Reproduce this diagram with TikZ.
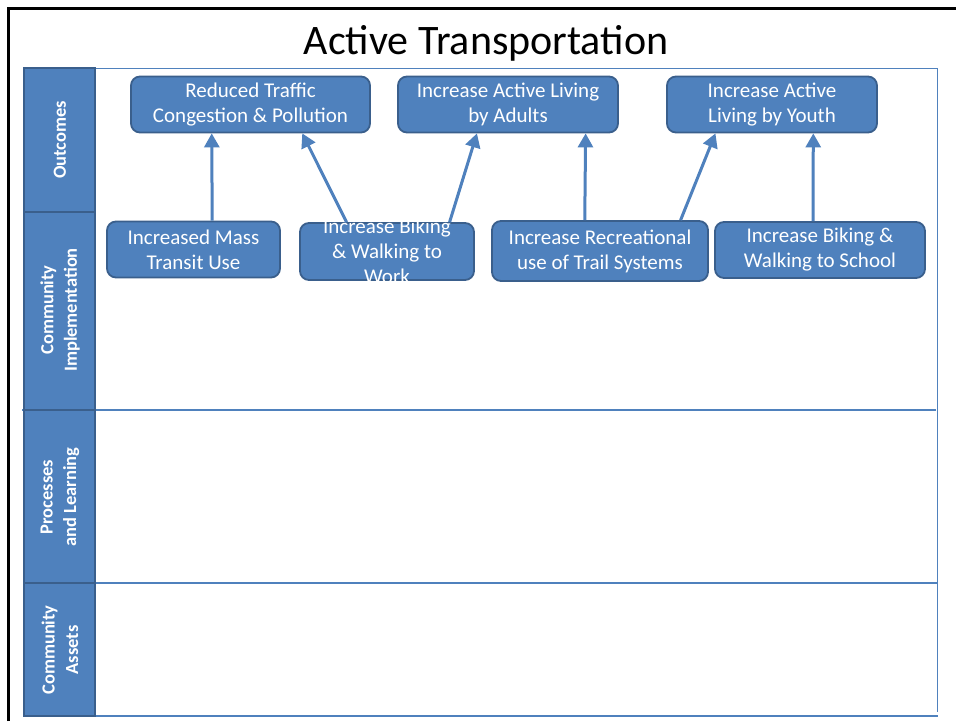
\documentclass[tikz,border=0pt]{standalone}
\usepackage{fontspec}
\setmainfont{Carlito}
\usetikzlibrary{arrows.meta,calc}
\definecolor{cellblue}{HTML}{4F81BD}
\definecolor{edgeblue}{HTML}{3A5F8C}
\begin{document}
\begin{tikzpicture}[x=1pt,y=-1pt,
  goalbox/.style={draw=edgeblue,line width=1.8pt,fill=cellblue,rounded corners=9pt,
    text=white,align=center,inner sep=0pt,
    font=\fontsize{21}{25}\selectfont},
  rowlabel/.style={draw=edgeblue,line width=1.8pt,fill=cellblue},
  rowtext/.style={text=white,align=center,rotate=90,inner sep=0pt,
    font=\bfseries\fontsize{18.5}{23.5}\selectfont},
  gridline/.style={draw=cellblue,line width=1pt},
  arr/.style={draw=cellblue,line width=3pt,-{Triangle[width=15pt,length=14pt]}}]
\useasboundingbox (0,0) rectangle (956,721);
\fill[white] (0,0) rectangle (956,721);

% outer frame
\draw[line width=3pt,black] (8,721) -- (8,8) -- (956,8);

% title
\node[font=\fontsize{42}{48}\selectfont,inner sep=0pt] (title) at (486,43) {Active Transportation};

% grid of the chart
\draw[gridline] (95,68) -- (937,68) -- (937,712);
\draw[gridline,line width=1.2pt] (22,410) -- (936,410);
\draw[gridline,line width=2pt] (24,583) -- (938,583);
\draw[gridline,line width=1.5pt] (24,716) -- (938,716);

% row headers
\draw[rowlabel] (24,68) rectangle (95,212);
\draw[rowlabel] (24,212) rectangle (95,410);
\draw[rowlabel] (24,410) rectangle (95,583);
\draw[rowlabel] (24,583) rectangle (95,716);
\node[rowtext] (r1) at (60,140) {Outcomes};
\node[rowtext] (r2) at (60,310) {Community\\Implementation};
\node[rowtext] (r3) at (60,497) {Processes\\ and Learning};
\node[rowtext] (r4) at (60,650) {Community\\Assets};

% outcome boxes
\node[goalbox,minimum width=239pt,minimum height=56pt] (b1) at (250.5,104.5) {Reduced Traffic\\Congestion \& Pollution};
\node[goalbox,minimum width=220pt,minimum height=56pt] (b2) at (508,104.5) {Increase Active Living\\by Adults};
\node[goalbox,minimum width=210pt,minimum height=56pt] (b3) at (772,104.5) {Increase Active\\Living by Youth};

% implementation boxes
\node[goalbox,minimum width=173pt,minimum height=56pt] (b4) at (193.5,249.5) {Increased Mass\\Transit Use};
\node[goalbox,minimum width=174pt,minimum height=57pt] (b5) at (387,251.5) {};
\node[goalbox,minimum width=216pt,minimum height=60pt] (b6) at (600,251) {Increase Recreational\\use of Trail Systems};
\node[goalbox,minimum width=210pt,minimum height=56pt] (b7) at (820,250) {Increase Biking \&\\Walking to School};

% links
\draw[arr] ($(b4.north west)!0.607!(b4.north east)$) -- ($(b1.south west)!0.339!(b1.south east)$);
\draw[arr] ($(b5.north west)!0.27!(b5.north east)$) -- ($(b1.south west)!0.715!(b1.south east)$);
\draw[arr] ($(b5.north west)!0.856!(b5.north east)$) -- ($(b2.south west)!0.36!(b2.south east)$);
\draw[arr] ($(b6.north west)!0.43!(b6.north east)$) -- ($(b2.south west)!0.85!(b2.south east)$);
\draw[arr] ($(b6.north west)!0.87!(b6.north east)$) -- ($(b3.south west)!0.233!(b3.south east)$);
\draw[arr] ($(b7.north west)!0.467!(b7.north east)$) -- ($(b3.south west)!0.695!(b3.south east)$);

% overflowing label of the work-trip box
\node[text=white,align=center,inner sep=0pt,font=\fontsize{21}{25}\selectfont] (b5text) at (b5.center) {Increase Biking\\\& Walking to\\Work};
\end{tikzpicture}
\end{document}
